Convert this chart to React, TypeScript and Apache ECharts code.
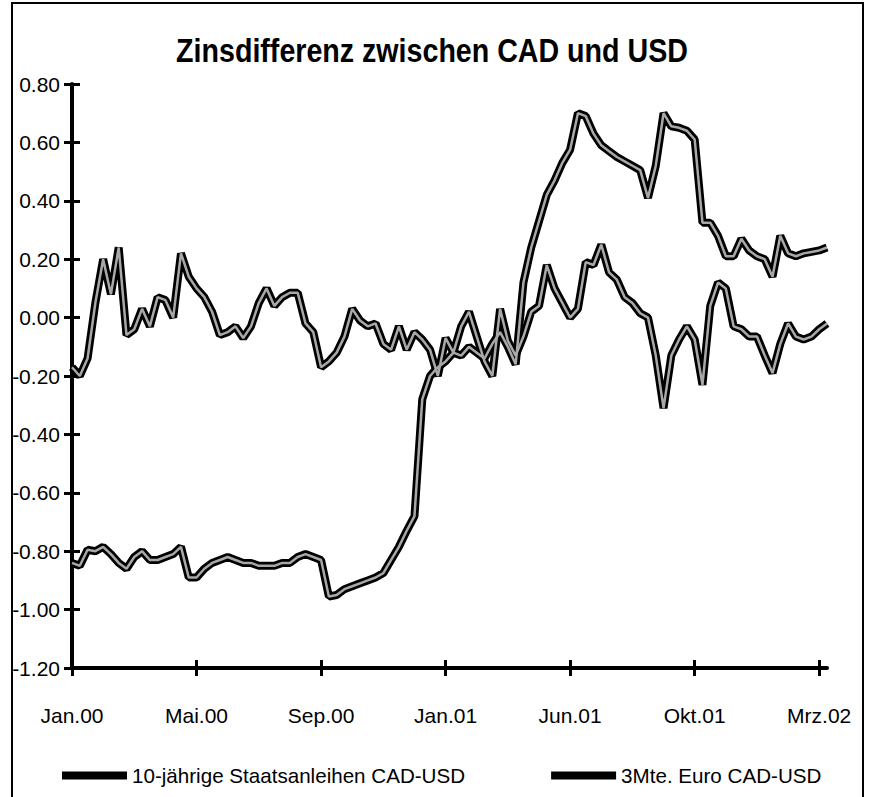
import React, { useEffect, useRef } from "react";
import * as echarts from "echarts";

const chartTitle = "Zinsdifferenz zwischen CAD und USD";
const tickLabels = ["Jan.00", "Mai.00", "Sep.00", "Jan.01", "Jun.01", "Okt.01", "Mrz.02"];
const seriesNames = ["10-jährige Staatsanleihen CAD-USD", "3Mte. Euro CAD-USD"];

// 10-year government bond spread CAD-USD
const tenYear = [
  -0.17, -0.2, -0.14, 0.05, 0.2, 0.08, 0.24, -0.06, -0.04, 0.03, -0.03, 0.07, 0.06, 0.0, 0.22, 0.14,
  0.1, 0.07, 0.02, -0.06, -0.05, -0.03, -0.07, -0.03, 0.05, 0.1, 0.04, 0.07, 0.085, 0.085, -0.02, -0.05,
  -0.17, -0.15, -0.12, -0.065, 0.03, -0.01, -0.03, -0.02, -0.09, -0.11, -0.03, -0.11, -0.05, -0.075, -0.11, -0.2,
  -0.07, -0.12, -0.03, 0.02, -0.065, -0.15, -0.2, 0.03, -0.08, -0.13, -0.065, 0.02, 0.04, 0.18, 0.1, 0.05,
  0.0, 0.03, 0.19, 0.18, 0.25, 0.155, 0.13, 0.07, 0.05, 0.015, 0.0, -0.13, -0.31, -0.13, -0.075, -0.03,
  -0.075, -0.23, 0.04, 0.12, 0.1, -0.03, -0.04, -0.065, -0.065, -0.13, -0.19, -0.09, -0.02, -0.065, -0.075, -0.065,
  -0.04, -0.02,
];

// 3-month Euro rate spread CAD-USD
const threeMonth = [
  -0.84, -0.85, -0.795, -0.8, -0.785, -0.81, -0.84, -0.86, -0.82, -0.8, -0.83, -0.83, -0.82, -0.81, -0.785, -0.89,
  -0.89, -0.86, -0.84, -0.83, -0.82, -0.83, -0.84, -0.84, -0.85, -0.85, -0.85, -0.84, -0.84, -0.82, -0.81, -0.82,
  -0.83, -0.955, -0.95, -0.93, -0.92, -0.91, -0.9, -0.89, -0.875, -0.83, -0.785, -0.73, -0.68, -0.28, -0.2, -0.17,
  -0.15, -0.12, -0.13, -0.1, -0.12, -0.14, -0.09, -0.05, -0.1, -0.16, 0.12, 0.24, 0.33, 0.42, 0.47, 0.53,
  0.575, 0.7, 0.69, 0.63, 0.59, 0.57, 0.55, 0.535, 0.52, 0.505, 0.41, 0.52, 0.7, 0.655, 0.65, 0.64,
  0.61, 0.325, 0.325, 0.28, 0.21, 0.21, 0.27, 0.23, 0.21, 0.2, 0.14, 0.28, 0.22, 0.21, 0.22, 0.225,
  0.23, 0.24,
];

const STEP = 16; // data points between labelled ticks
const categories = tenYear.map((_, i) =>
  i % STEP === 0 ? tickLabels[i / STEP] : `${tickLabels[Math.floor(i / STEP)]}#${i % STEP}`
);

const FONT = "'Liberation Sans', Arial, sans-serif";
const TITLE_FONT = `bold 34px ${FONT}`;
const TITLE_WIDTH = 512;

function measure(text: string, font: string): number {
  const c = document.createElement("canvas");
  const ctx = c.getContext("2d");
  if (!ctx) return TITLE_WIDTH;
  ctx.font = font;
  return ctx.measureText(text).width;
}

export default function App() {
  const ref = useRef<HTMLDivElement>(null);
  useEffect(() => {
    if (!ref.current) return;
    const chart = echarts.init(ref.current, undefined, { renderer: "svg" });
    const isTick = (i: number) => i % STEP === 0;
    const titleScale = TITLE_WIDTH / measure(chartTitle, TITLE_FONT);
    const xBase = {
      type: "category" as const,
      data: categories,
      boundaryGap: false,
      position: "bottom" as const,
      splitLine: { show: false },
    };
    const yBase = {
      type: "value" as const,
      min: -1.2,
      max: 0.8,
      interval: 0.2,
      position: "left" as const,
      splitLine: { show: false },
    };
    const tickStyle = { color: "#000", width: 3 };
    chart.setOption({
      animation: false,
      backgroundColor: "#fff",
      legend: {
        data: seriesNames,
        left: 57,
        top: 760,
        itemGap: 86,
        itemWidth: 65,
        itemHeight: 8,
        icon: "rect",
        textStyle: { fontFamily: FONT, fontSize: 20.6, color: "#000" },
      },
      grid: { left: 72, right: 46, top: 84, bottom: 129 },
      xAxis: [
        {
          ...xBase,
          axisLine: { onZero: false, lineStyle: { color: "#000", width: 4 } },
          axisTick: { interval: isTick, length: 8, lineStyle: tickStyle },
          axisLabel: {
            interval: isTick,
            margin: 37,
            color: "#000",
            fontFamily: FONT,
            fontSize: 21,
          },
        },
        {
          ...xBase,
          axisLine: { show: false, onZero: false },
          axisTick: { inside: true, interval: isTick, length: 8, lineStyle: tickStyle },
          axisLabel: { show: false },
        },
      ],
      yAxis: [
        {
          ...yBase,
          axisLine: { show: true, onZero: false, lineStyle: { color: "#000", width: 4 } },
          axisTick: { show: true, length: 8, lineStyle: tickStyle },
          axisLabel: {
            margin: 12,
            color: "#000",
            fontFamily: FONT,
            fontSize: 21,
            formatter: (v: number) => v.toFixed(2),
          },
        },
        {
          ...yBase,
          axisLine: { show: false, onZero: false },
          axisTick: { show: true, inside: true, length: 8, lineStyle: tickStyle },
          axisLabel: { show: false },
        },
      ],
      graphic: [
        {
          type: "rect",
          shape: { x: 12, y: 3, width: 851, height: 810 },
          style: { fill: "none", stroke: "#000", lineWidth: 2 },
          silent: true,
        },
        {
          type: "text",
          x: 432,
          y: 51,
          scaleX: titleScale,
          style: {
            text: chartTitle,
            font: TITLE_FONT,
            fill: "#000",
            align: "center",
            verticalAlign: "middle",
          },
          silent: true,
        },
      ],
      series: [
        {
          name: seriesNames[0],
          type: "line",
          data: tenYear,
          symbol: "none",
          color: "#000",
          lineStyle: { color: "#000", width: 8 },
          z: 2,
        },
        {
          name: seriesNames[0] + " ",
          type: "line",
          data: tenYear,
          symbol: "none",
          color: "#a8a8a8",
          lineStyle: { color: "#a8a8a8", width: 2.5 },
          z: 3,
        },
        {
          name: seriesNames[1],
          type: "line",
          data: threeMonth,
          symbol: "none",
          color: "#000",
          lineStyle: { color: "#000", width: 8 },
          z: 2,
        },
        {
          name: seriesNames[1] + " ",
          type: "line",
          data: threeMonth,
          symbol: "none",
          color: "#a8a8a8",
          lineStyle: { color: "#a8a8a8", width: 2.5 },
          z: 3,
        },
      ],
    });
    return () => chart.dispose();
  }, []);
  return (
    <div
      ref={ref}
      style={{ position: "absolute", left: 0, top: 0, width: 873, height: 797 }}
    />
  );
}
